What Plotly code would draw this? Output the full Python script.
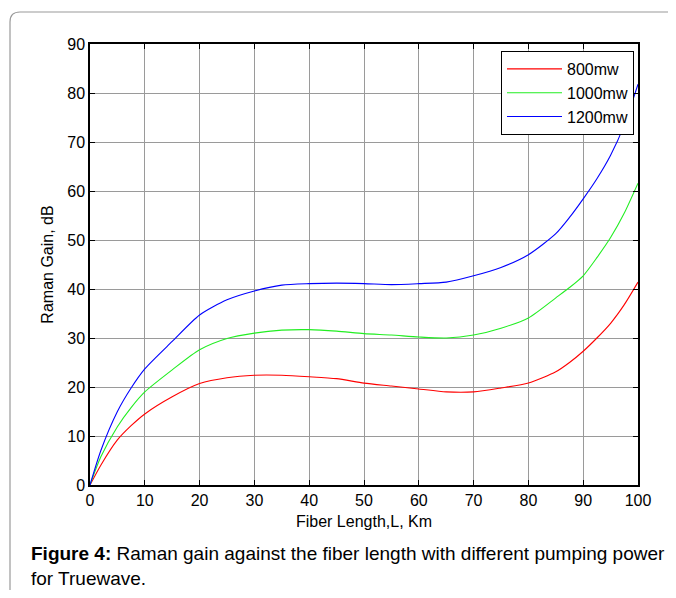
import plotly.graph_objects as go

fiber_length = [0, 2, 5, 7.5, 10, 15, 20, 25, 30, 35, 40, 45, 50, 55, 60, 65, 70, 75, 80, 85, 87.5, 90, 92.5, 95, 97.5, 100]
gain_800 = [0, 4.1, 9.2, 12.1, 14.5, 18.0, 20.7, 21.9, 22.4, 22.4, 22.1, 21.7, 20.8, 20.2, 19.6, 19.0, 19.0, 19.8, 20.8, 23.1, 25.0, 27.3, 30.0, 33.0, 36.8, 41.4]
gain_1000 = [0, 5.8, 11.9, 15.8, 19.0, 23.5, 27.6, 29.9, 31.0, 31.6, 31.7, 31.4, 30.9, 30.6, 30.2, 30.0, 30.6, 32.0, 34.1, 38.2, 40.3, 42.7, 46.4, 50.5, 55.5, 61.6]
gain_1200 = [0, 7.1, 15.0, 19.8, 23.7, 29.3, 34.7, 37.8, 39.6, 40.8, 41.1, 41.2, 41.1, 40.9, 41.1, 41.4, 42.7, 44.4, 47.0, 51.3, 54.6, 58.4, 62.5, 67.3, 73.5, 81.8]
series_names = ["800mw", "1000mw", "1200mw"]
series_colors = ["#ff0000", "#22ee22", "#0000ff"]
x_ticks = [0, 10, 20, 30, 40, 50, 60, 70, 80, 90, 100]
y_ticks = [0, 10, 20, 30, 40, 50, 60, 70, 80, 90]

# page offset of the figure inside the html body
OFF = 8
W, H = 660, 582
PL, PR, PT, PB = 90, 638, 44, 485   # plot area in page pixels
L, R, T, B = PL - OFF, (W + OFF) - PR, PT - OFF, (H + OFF) - PB
pw, ph = PR - PL, PB - PT

def px(x):
    return (x - PL) / pw

def py(y):
    return (PB - y) / ph

FONT = "Liberation Sans, Arial, sans-serif"

fig = go.Figure()
for name, vals, col in zip(series_names, [gain_800, gain_1000, gain_1200], series_colors):
    fig.add_trace(go.Scatter(x=fiber_length, y=vals, mode="lines", name=name,
                             line=dict(color=col, width=1.1, shape="spline", smoothing=0.7)))

axis_common = dict(showline=True, linecolor="black", linewidth=1.5, mirror="ticks",
                   ticks="inside", ticklen=5, tickcolor="black", showgrid=True,
                   gridcolor="#9a9a9a", gridwidth=1, zeroline=False,
                   tickfont=dict(family=FONT, size=16, color="black"))

fig.update_xaxes(range=[0, 100], tickvals=x_ticks, **axis_common,
                 title=dict(text="Fiber Length,L, Km", standoff=8,
                            font=dict(family=FONT, size=16, color="black")))
fig.update_yaxes(range=[0, 90], tickvals=y_ticks, **axis_common,
                 title=dict(text="Raman Gain, dB", standoff=10,
                            font=dict(family=FONT, size=16, color="black")))

fig.update_layout(
    width=W, height=H,
    margin=dict(l=L, r=R, t=T, b=B),
    paper_bgcolor="white", plot_bgcolor="white",
    showlegend=True,
    legend=dict(x=px(634), y=py(51), xanchor="right", yanchor="top",
                bgcolor="white", bordercolor="black", borderwidth=1,
                font=dict(family=FONT, size=16, color="black"),
                itemwidth=55, tracegroupgap=0),
)

# outer rounded frame (page coordinates)
r = 10
frame_path = (f"M {px(10)} {py(600)} L {px(10)} {py(12 + r)} "
              f"Q {px(10)} {py(12)} {px(10 + r)} {py(12)} L {px(690)} {py(12)}")
fig.add_shape(type="path", path=frame_path, xref="paper", yref="paper",
              line=dict(color="#9a9a9a", width=1.2))

fig.add_annotation(text="<b>Figure 4:</b> Raman gain against the fiber length with different pumping power",
                   xref="paper", yref="paper", x=px(29), y=py(553), xanchor="left", yanchor="middle",
                   showarrow=False, font=dict(family=FONT, size=19, color="black"))
fig.add_annotation(text="for Truewave.",
                   xref="paper", yref="paper", x=px(29), y=py(578), xanchor="left", yanchor="middle",
                   showarrow=False, font=dict(family=FONT, size=19, color="black"))

fig.write_html("out.html")
